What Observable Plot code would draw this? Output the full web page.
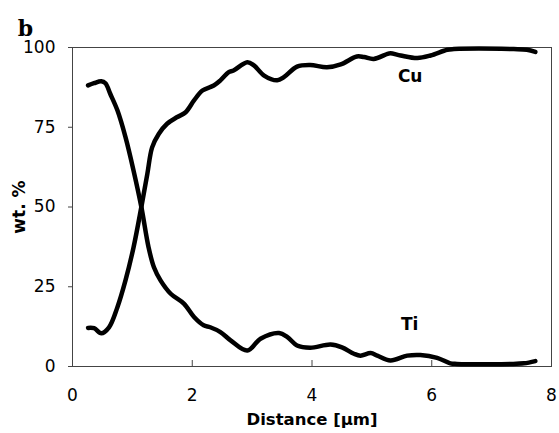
<!DOCTYPE html>
<html>
<head>
<meta charset="utf-8">
<script src="https://cdn.jsdelivr.net/npm/d3@7"></script>
<script src="https://cdn.jsdelivr.net/npm/@observablehq/plot@0.6"></script>
<style>
  html, body { margin: 0; padding: 0; background: white; }
</style>
</head>
<body>
<div id="chart"></div>
<script>
// Ti profile (wt.%) vs distance (µm)
const tiX = [0.26,0.36,0.48,0.55,0.63,0.75,0.885,1.02,1.15,1.27,1.36,1.47,1.64,1.86,2.03,2.19,2.30,2.47,2.64,2.92,3.14,3.45,3.59,3.75,3.97,4.31,4.50,4.70,4.81,4.98,5.09,5.31,5.59,5.81,6.09,6.31,6.42,7.31,7.54,7.73];
const tiY = [88.1,88.8,89.4,88.8,85.5,80.3,71.9,61.4,50,37.4,31.1,27,22.8,19.7,15.5,12.9,12.3,10.8,8.2,5.0,8.7,10.5,9.2,6.6,5.9,6.9,6.0,4.0,3.4,4.2,3.4,1.9,3.4,3.6,2.7,1.0,0.8,0.8,1.0,1.7];
// Cu profile
const cuX = [0.26,0.36,0.48,0.61,0.75,0.885,1.02,1.15,1.25,1.33,1.44,1.58,1.75,1.89,2.03,2.17,2.36,2.47,2.61,2.69,2.92,3.03,3.20,3.42,3.53,3.75,3.97,4.25,4.48,4.75,4.87,5.03,5.26,5.31,5.48,5.76,5.98,6.26,6.37,7.37,7.59,7.73];
const cuY = [12.1,12.0,10.4,12.3,18.6,27,37.4,50,60.4,68.7,72.9,76.1,78.2,79.7,83.4,86.5,88.1,89.7,92.3,92.8,95.4,94.4,91.2,89.7,90.7,94.0,94.5,93.8,94.7,97.2,97.0,96.4,98.0,98.2,97.5,96.7,97.5,99.3,99.5,99.5,99.3,98.6];
// Series labels
const labelNames = ["Cu", "Ti"];
const labelX = [5.64, 5.63];
const labelY = [90.9, 13.2];
// Axis ticks
const xTicks = [0, 2, 4, 6, 8];
const yTicks = [0, 25, 50, 75, 100];
const xInnerTicks = [2, 4, 6];

const ti = tiX.map((x, i) => ({x, y: tiY[i]}));
const cu = cuX.map((x, i) => ({x, y: cuY[i]}));
const labels = labelNames.map((t, i) => ({t, x: labelX[i], y: labelY[i]}));

const W = 559, H = 433, mt = 47, mb = 67, ml = 72, mr = 8;

const chart = Plot.plot({
  width: W,
  height: H,
  marginTop: mt,
  marginBottom: mb,
  marginLeft: ml,
  marginRight: mr,
  style: {fontFamily: "DejaVu Sans", fontSize: "17px", background: "white", color: "black"},
  x: {domain: [0, 8]},
  y: {domain: [0, 100]},
  marks: [
    Plot.axisX({ticks: xTicks, tickSize: 0, tickPadding: 22, label: null, fontSize: 17}),
    Plot.axisY({ticks: yTicks, tickSize: 4, tickPadding: 13, label: null, fontSize: 17, stroke: "#444"}),
    Plot.ruleX(xInnerTicks, {stroke: "#444", insetTop: H - mt - mb - 6}),
    Plot.frame({stroke: "#444"}),
    Plot.line(ti, {x: "x", y: "y", stroke: "black", strokeWidth: 4.5, curve: "catmull-rom"}),
    Plot.line(cu, {x: "x", y: "y", stroke: "black", strokeWidth: 4.5, curve: "catmull-rom"}),
    Plot.text(labels, {x: "x", y: "y", text: "t", fontWeight: "bold", fontSize: 17, fill: "black"}),
    Plot.text(["Distance [μm]"], {frameAnchor: "bottom", dy: 53, textAnchor: "middle", lineAnchor: "middle", fontWeight: "bold", fontSize: 16.5, fill: "black"}),
    Plot.text(["wt. %"], {frameAnchor: "left", dx: -53, rotate: -90, textAnchor: "middle", lineAnchor: "middle", fontWeight: "bold", fontSize: 17, fill: "black"}),
    Plot.text(["b"], {frameAnchor: "top-left", dx: -47, dy: -19, textAnchor: "middle", lineAnchor: "middle", fontWeight: "bold", fontSize: 22, fontFamily: "DejaVu Serif", fill: "black"})
  ]
});
document.getElementById("chart").appendChild(chart);
</script>
</body>
</html>
